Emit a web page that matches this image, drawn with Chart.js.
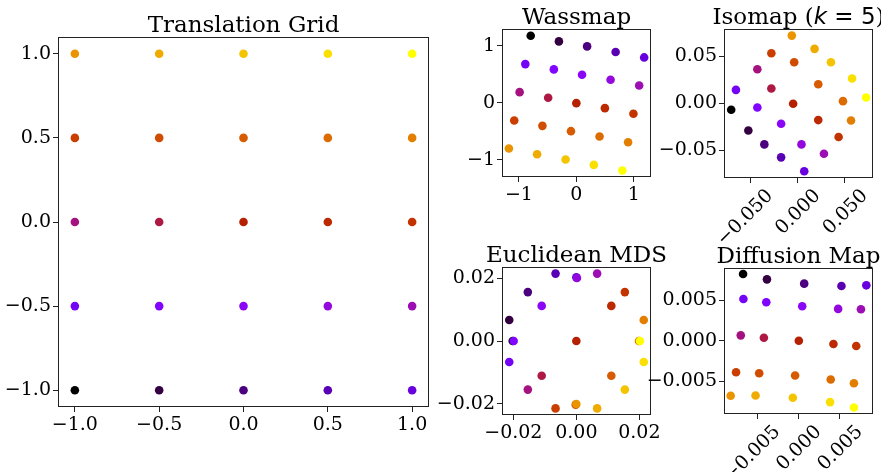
<!DOCTYPE html>
<html>
<head>
<meta charset="utf-8">
<script src="https://cdn.jsdelivr.net/npm/chart.js@4.4.0/dist/chart.umd.min.js"></script>
<style>
  html, body { margin: 0; padding: 0; background: #fff; }
  body { width: 881px; height: 472px; position: relative; overflow: hidden; }
  .panel { position: absolute; }
</style>
</head>
<body>
<div class="panel" id="p-grid"><canvas id="c-grid"></canvas></div>
<div class="panel" id="p-wass"><canvas id="c-wass"></canvas></div>
<div class="panel" id="p-iso"><canvas id="c-iso"></canvas></div>
<div class="panel" id="p-mds"><canvas id="c-mds"></canvas></div>
<div class="panel" id="p-diff"><canvas id="c-diff"></canvas></div>
<script>
// points are listed in colour order (0 = black ... 24 = yellow)
const gridX = [-1, -0.5, 0, 0.5, 1, -1, -0.5, 0, 0.5, 1, -1, -0.5, 0, 0.5, 1, -1, -0.5, 0, 0.5, 1, -1, -0.5, 0, 0.5, 1];
const gridY = [-1, -1, -1, -1, -1, -0.5, -0.5, -0.5, -0.5, -0.5, 0, 0, 0, 0, 0, 0.5, 0.5, 0.5, 0.5, 0.5, 1, 1, 1, 1, 1];

const wassX = [-0.795, -0.304, 0.187, 0.684, 1.181, -0.889, -0.392, 0.099, 0.596, 1.094, -0.988, -0.491, 0.0, 0.497, 0.994,
               -1.082, -0.591, -0.094, 0.404, 0.901, -1.175, -0.684, -0.187, 0.304, 0.801];
const wassY = [1.175, 1.076, 0.988, 0.889, 0.795, 0.678, 0.585, 0.491, 0.404, 0.304, 0.187, 0.088, -0.006, -0.094, -0.193,
               -0.310, -0.404, -0.497, -0.591, -0.690, -0.801, -0.901, -0.994, -1.088, -1.187];

const isoX = [-0.0700, -0.0519, -0.0350, -0.0173, 0.0071, -0.0650, -0.0424, -0.0173, 0.0042, 0.0279, -0.0424, -0.0276, -0.0046,
              0.0219, 0.0434, -0.0276, -0.0035, 0.0219, 0.0480, 0.0565, -0.0060, 0.0180, 0.0353, 0.0576, 0.0724];
const isoY = [-0.0071, -0.0290, -0.0438, -0.0576, -0.0724, 0.0141, -0.0046, -0.0219, -0.0438, -0.0537, 0.0360, 0.0155, -0.0007,
              -0.0180, -0.0360, 0.0530, 0.0434, 0.0201, 0.0021, -0.0184, 0.0717, 0.0576, 0.0434, 0.0261, 0.0060];

const mdsX = [-0.0202, -0.0213, -0.0154, -0.0066, 0.0, -0.0213, -0.0199, -0.0110, 0.0002, 0.0066, -0.0154, -0.0110, 0.0,
              0.0111, 0.0154, -0.0066, -0.0002, 0.0111, 0.0199, 0.0214, 0.0, 0.0066, 0.0154, 0.0214, 0.0202];
const mdsY = [0.0, 0.0067, 0.0156, 0.0215, 0.0203, -0.0067, 0.0, 0.0112, 0.0201, 0.0215, -0.0155, -0.0111, 0.0,
              0.0112, 0.0156, -0.0215, -0.0203, -0.0111, 0.0, 0.0067, -0.0201, -0.0215, -0.0155, -0.0067, 0.0];

const diffX = [-0.00671, -0.00382, 0.00069, 0.00520, 0.00821, -0.00667, -0.00390, 0.00045, 0.00480, 0.00756, -0.00699, -0.00419, 0.00004,
               0.00423, 0.00699, -0.00756, -0.00476, -0.00041, 0.00390, 0.00671, -0.00821, -0.00520, -0.00069, 0.00382, 0.00671];
const diffY = [0.00824, 0.00758, 0.00705, 0.00676, 0.00684, 0.00516, 0.00475, 0.00426, 0.00393, 0.00389, 0.00066, 0.00037, 0.0,
               -0.00041, -0.00066, -0.00389, -0.00402, -0.00430, -0.00479, -0.00525, -0.00680, -0.00676, -0.00705, -0.00758, -0.00824];

const gridTicks = [-1, -0.5, 0, 0.5, 1];
const gridLabels = ['\u22121.0', '\u22120.5', '0.0', '0.5', '1.0'];
const wassTicks = [-1, 0, 1];
const wassLabels = ['\u22121', '0', '1'];
const isoTicks = [-0.05, 0, 0.05];
const isoLabelsX = ['\u22120.050', '0.000', '0.050'];
const isoLabelsY = ['\u22120.05', '0.00', '0.05'];
const mdsTicks = [-0.02, 0, 0.02];
const mdsLabels = ['\u22120.02', '0.00', '0.02'];
const diffTicks = [-0.005, 0, 0.005];
const diffLabels = ['\u22120.005', '0.000', '0.005'];

const SERIF = "'DejaVu Serif', serif";
const TICK_SIZE = 19;
const TITLE_SIZE = 23;
const Y_AXIS_W = 80, TOP_PAD = 40, X_AXIS_H = 65, RIGHT_PAD = 25;

// matplotlib 'gnuplot' colormap
function gnuplot(t) {
  const r = Math.sqrt(t), g = t * t * t, b = Math.max(0, Math.sin(2 * Math.PI * t));
  return `rgb(${Math.round(r * 255)},${Math.round(g * 255)},${Math.round(b * 255)})`;
}
const colors = gridX.map((_, i) => gnuplot(i / (gridX.length - 1)));

const framePlugin = {
  id: 'frame',
  afterDraw(chart, args, opts) {
    const { ctx, chartArea: a } = chart;
    ctx.save();
    ctx.strokeStyle = '#222';
    ctx.lineWidth = 1;
    ctx.strokeRect(a.left + 0.5, a.top + 0.5, a.right - a.left - 1, a.bottom - a.top - 1);
    // title, centred over the axes box
    const parts = opts.title || [];
    let total = 0;
    parts.forEach(p => { ctx.font = p.font; p.w = ctx.measureText(p.text).width; total += p.w; });
    let x = (a.left + a.right) / 2 - total / 2;
    ctx.fillStyle = '#000';
    ctx.textBaseline = 'alphabetic';
    ctx.textAlign = 'left';
    parts.forEach(p => { ctx.font = p.font; ctx.fillText(p.text, x, a.top - 5); x += p.w; });
    ctx.restore();
  }
};

function axis(min, max, ticks, labels, isX, rot) {
  return {
    type: 'linear',
    min: min,
    max: max,
    afterFit: s => { if (isX) s.height = X_AXIS_H; else s.width = Y_AXIS_W; },
    afterBuildTicks: s => { s.ticks = ticks.map(v => ({ value: v })); },
    grid: { drawOnChartArea: false, drawTicks: true, tickLength: 5, color: '#222' },
    border: { display: false },
    ticks: {
      font: { family: SERIF, size: TICK_SIZE },
      color: '#000',
      padding: 2,
      autoSkip: false,
      maxRotation: rot || 0,
      minRotation: rot || 0,
      labelOffset: rot ? 20 : 0,
      callback: (v, i) => labels[i]
    }
  };
}

function makePanel(id, box, xs, ys, xr, yr, xTicks, xLabels, yTicks, yLabels, title, rot) {
  const div = document.getElementById('p-' + id);
  div.style.left = (box.l - Y_AXIS_W) + 'px';
  div.style.top = (box.t - TOP_PAD) + 'px';
  div.style.width = (box.w + Y_AXIS_W + RIGHT_PAD) + 'px';
  div.style.height = (box.h + TOP_PAD + X_AXIS_H) + 'px';
  const pts = xs.map((x, i) => ({ x: x, y: ys[i] }));
  new Chart(document.getElementById('c-' + id), {
    type: 'scatter',
    data: { datasets: [{ data: pts, backgroundColor: colors, pointRadius: 4.3, borderWidth: 0, pointHoverRadius: 4.3 }] },
    options: {
      responsive: true,
      maintainAspectRatio: false,
      animation: false,
      events: [],
      layout: { padding: { top: TOP_PAD, right: RIGHT_PAD, left: 0, bottom: 0 } },
      plugins: { legend: { display: false }, tooltip: { enabled: false }, frame: { title: title } },
      scales: {
        x: axis(xr[0], xr[1], xTicks, xLabels, true, rot),
        y: axis(yr[0], yr[1], yTicks, yLabels, false, 0)
      }
    },
    plugins: [framePlugin]
  });
}

const titleFont = `${TITLE_SIZE}px ${SERIF}`;
const mathItalic = `oblique ${TITLE_SIZE}px 'DejaVu Sans', sans-serif`;
const mathFont = `${TITLE_SIZE}px 'DejaVu Sans', sans-serif`;

makePanel('grid', { l: 58, t: 37, w: 371, h: 370 }, gridX, gridY, [-1.1, 1.1], [-1.1, 1.1],
  gridTicks, gridLabels, gridTicks, gridLabels, [{ text: 'Translation Grid', font: titleFont }], 0);
makePanel('wass', { l: 502, t: 29, w: 149, h: 148 }, wassX, wassY, [-1.295, 1.30], [-1.30, 1.293],
  wassTicks, wassLabels, wassTicks, wassLabels, [{ text: 'Wassmap', font: titleFont }], 0);
makePanel('iso', { l: 724, t: 29, w: 149, h: 149 }, isoX, isoY, [-0.0776, 0.0797], [-0.0795, 0.0787],
  isoTicks, isoLabelsX, isoTicks, isoLabelsY,
  [{ text: 'Isomap (', font: titleFont }, { text: 'k', font: mathItalic }, { text: ' = 5', font: mathFont }, { text: ')', font: titleFont }], 45);
makePanel('mds', { l: 502, t: 267, w: 149, h: 148 }, mdsX, mdsY, [-0.0236, 0.0237], [-0.0236, 0.0236],
  mdsTicks, mdsLabels, mdsTicks, mdsLabels, [{ text: 'Euclidean MDS', font: titleFont }], 0);
makePanel('diff', { l: 724, t: 268, w: 149, h: 146 }, diffX, diffY, [-0.00902, 0.00902], [-0.00905, 0.00898],
  diffTicks, diffLabels, diffTicks, diffLabels, [{ text: 'Diffusion Map', font: titleFont }], 45);
</script>
</body>
</html>
